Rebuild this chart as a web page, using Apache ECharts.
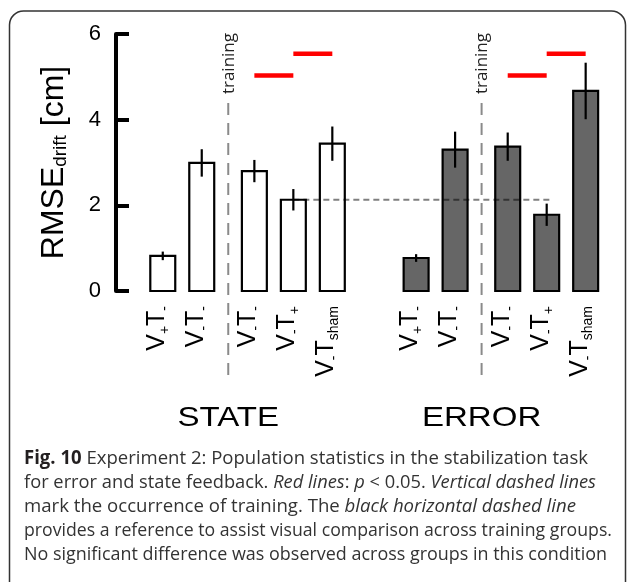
<!DOCTYPE html>
<html><head><meta charset="utf-8">
<script src="https://cdn.jsdelivr.net/npm/echarts@6/dist/echarts.min.js"></script>
<style>html,body{margin:0;padding:0;background:#fff}#c{width:627px;height:582px}</style>
</head><body><div id="c"></div>
<script>
// ---------------- data ----------------
const groups = ['STATE', 'ERROR'];
const vSubs = ['+', '-', '-', '-', '-'];
const tSubs = ['-', '-', '-', '+', 'sham'];
const stateMeans = [0.82, 2.99, 2.80, 2.13, 3.44];
const stateErrs  = [0.10, 0.32, 0.26, 0.25, 0.40];
const errorMeans = [0.77, 3.30, 3.37, 1.78, 4.67];
const errorErrs  = [0.09, 0.42, 0.33, 0.26, 0.66];
const sigFrom = [2, 3];
const sigTo = [3, 4];
const sigLevel = [5.03, 5.54];
const yTicks = [0, 2, 4, 6];
const captionLines = [
  '{b|Fig. 10} Experiment 2: Population statistics in the stabilization task',
  'for error and state feedback. {i|Red lines}: {i|p} < 0.05. {i|Vertical dashed lines}',
  'mark the occurrence of training. The {i|black horizontal dashed line}',
  'provides a reference to assist visual comparison across training groups.',
  'No significant difference was observed across groups in this condition'
];

// ---------------- layout ----------------
const SLOT = [0, 1, 2.35, 3.35, 4.35];
const TRAIN_AT = 1.68;
const GROUP_OFFSET = 6.5;
const BAR_HALF = 0.32;
const ARIAL = '"Liberation Sans", Arial, Helvetica, sans-serif';
const OPEN = '"Open Sans", "Noto Sans", sans-serif';
const CAP_LEFT = 24;
const CAP_RIGHT = [588, 596, 576, 612, 607];

const slotPositions = [];
const slotLabels = [];
groups.forEach((g, gi) => SLOT.forEach((s, i) => {
  slotPositions.push(gi * GROUP_OFFSET + s);
  slotLabels.push('{m|V}{s|' + vSubs[i] + '}{m|T}{s|' + tSubs[i] + '}');
}));

function barSeries(name, means, errs, gi, fill) {
  return {
    type: 'custom', name: name,
    data: means.map((m, i) => [gi * GROUP_OFFSET + SLOT[i], m, errs[i]]),
    encode: { x: 0, y: 1 },
    z: 2,
    renderItem: function (params, api) {
      const x = api.value(0), m = api.value(1), e = api.value(2);
      const p0 = api.coord([x - BAR_HALF, 0]);
      const p1 = api.coord([x + BAR_HALF, m]);
      const e0 = api.coord([x, m - e]);
      const e1 = api.coord([x, m + e]);
      return { type: 'group', children: [
        { type: 'rect', shape: { x: p0[0], y: p1[1], width: p1[0] - p0[0], height: p0[1] - p1[1] },
          style: { fill: fill, stroke: '#000', lineWidth: 2.2 } },
        { type: 'line', shape: { x1: e0[0], y1: e0[1], x2: e1[0], y2: e1[1] },
          style: { stroke: '#000', lineWidth: 2.2 } }
      ]};
    }
  };
}

// caption: measure each line (with bold / italic runs) to fit the figure's line lengths
const cv = document.createElement('canvas').getContext('2d');
const CAP_FONTS = { '': '19px "Open Sans"', b: 'bold 19px "Open Sans"', i: 'italic 19px "Open Sans"' };
function lineWidth(t) {
  let w = 0, last = 0;
  const re = /\{(b|i)\|([^}]*)\}/g;
  let mt;
  while ((mt = re.exec(t))) {
    cv.font = CAP_FONTS['']; w += cv.measureText(t.slice(last, mt.index)).width;
    cv.font = CAP_FONTS[mt[1]]; w += cv.measureText(mt[2]).width;
    last = re.lastIndex;
  }
  cv.font = CAP_FONTS['']; w += cv.measureText(t.slice(last)).width;
  return w;
}
const capScales = captionLines.map((t, i) => (CAP_RIGHT[i] - CAP_LEFT) / lineWidth(t));

const chart = echarts.init(document.getElementById('c'), null, { renderer: 'canvas' });
chart.setOption({
  animation: false,
  backgroundColor: '#fff',
  grid: { left: 116, right: 16, top: 34, bottom: 291 },
  xAxis: {
    type: 'value', min: -1.2, max: 11.5,
    axisLine: { show: false, onZero: false }, axisTick: { show: false }, splitLine: { show: false },
    axisLabel: {
      customValues: slotPositions,
      rotate: 90, margin: 15,
      padding: [0, 0, 12, 0],
      formatter: function (v) {
        let k = 0, best = 1e9;
        slotPositions.forEach((p, i) => { if (Math.abs(p - v) < best) { best = Math.abs(p - v); k = i; } });
        return slotLabels[k];
      },
      rich: {
        m: { fontSize: 25, lineHeight: 30, fontFamily: ARIAL, color: '#000' },
        s: { fontSize: 14, lineHeight: 1, verticalAlign: 'bottom', fontFamily: ARIAL, color: '#000' }
      }
    }
  },
  yAxis: {
    type: 'value', min: yTicks[0], max: yTicks[yTicks.length - 1], interval: yTicks[1] - yTicks[0],
    axisLine: { show: true, onZero: false, lineStyle: { color: '#000', width: 4 } },
    axisTick: { show: true, inside: true, length: 13, lineStyle: { color: '#000', width: 4 } },
    axisLabel: { fontSize: 22, color: '#000', margin: 15, fontFamily: ARIAL },
    splitLine: { show: false },
    name: '{a|RMSE}{s|drift}{a| [cm]}',
    nameLocation: 'middle', nameRotate: 90, nameGap: 46,
    nameTextStyle: {
      rich: {
        a: { fontSize: 32, lineHeight: 32, fontFamily: ARIAL, color: '#000' },
        s: { fontSize: 19, lineHeight: 1, verticalAlign: 'bottom', fontFamily: ARIAL, color: '#000' }
      }
    }
  },
  series: [
    barSeries('STATE', stateMeans, stateErrs, 0, '#ffffff'),
    barSeries('ERROR', errorMeans, errorErrs, 1, '#666666'),
    {
      type: 'custom', name: 'reference', z: 3,
      data: [[SLOT[3], GROUP_OFFSET + SLOT[3] + 0.1, stateMeans[3]]],
      renderItem: function (params, api) {
        const a = api.coord([api.value(0), api.value(2)]);
        const b = api.coord([api.value(1), api.value(2)]);
        return { type: 'line', shape: { x1: a[0], y1: a[1], x2: b[0], y2: b[1] },
          style: { stroke: 'rgba(0,0,0,0.5)', lineWidth: 2, lineDash: [6, 4] } };
      }
    },
    {
      type: 'custom', name: 'training', z: 3,
      data: groups.map((g, gi) => [gi * GROUP_OFFSET + TRAIN_AT, gi]),
      renderItem: function (params, api) {
        const x = api.value(0);
        const top = api.coord([x, 4.39]);
        const bot = api.coord([x, -2.15]);
        const tp = api.coord([x, 6]);
        const base = api.coord([x, 0]);
        return { type: 'group', children: [
          { type: 'line', shape: { x1: top[0], y1: top[1], x2: bot[0], y2: bot[1] },
            style: { stroke: '#8a8a8a', lineWidth: 2, lineDash: [12, 8] } },
          { type: 'text', x: tp[0] + 0.5, y: tp[1] - 1, rotation: Math.PI / 2,
            style: { text: 'training', x: 0, y: 0, align: 'right', verticalAlign: 'middle',
              font: '17px ' + OPEN, fill: '#222' } },
          { type: 'text', x: base[0], y: base[1] + 127, scaleX: 1.18,
            style: { text: groups[api.value(1)], x: 0, y: 0, align: 'center', verticalAlign: 'middle',
              font: '28px ' + ARIAL, fill: '#000' } }
        ]};
      }
    },
    {
      type: 'custom', name: 'significance', z: 4,
      data: (function () {
        const d = [];
        groups.forEach((g, gi) => sigFrom.forEach((a, k) => {
          d.push([gi * GROUP_OFFSET + SLOT[a], gi * GROUP_OFFSET + SLOT[sigTo[k]], sigLevel[k]]);
        }));
        return d;
      })(),
      renderItem: function (params, api) {
        const a = api.coord([api.value(0), api.value(2)]);
        const b = api.coord([api.value(1), api.value(2)]);
        return { type: 'line', shape: { x1: a[0], y1: a[1], x2: b[0], y2: b[1] },
          style: { stroke: '#ff0000', lineWidth: 4.5 } };
      }
    }
  ],
  graphic: [
    { type: 'rect', silent: true, shape: { x: 9.5, y: 11, width: 616, height: 585, r: 14 },
      style: { fill: 'none', stroke: '#333', lineWidth: 1.5 } }
  ].concat(captionLines.map((t, i) => ({
    type: 'text', x: CAP_LEFT, y: 464 - 5.4 + i * 24.1, scaleX: capScales[i], silent: true,
    style: { text: t, x: 0, y: 0, align: 'left', verticalAlign: 'middle',
      font: CAP_FONTS[''], fill: '#333',
      rich: {
        b: { font: CAP_FONTS.b, fill: '#231f20' },
        i: { font: CAP_FONTS.i, fill: '#333' }
      } }
  })))
});
</script></body></html>
